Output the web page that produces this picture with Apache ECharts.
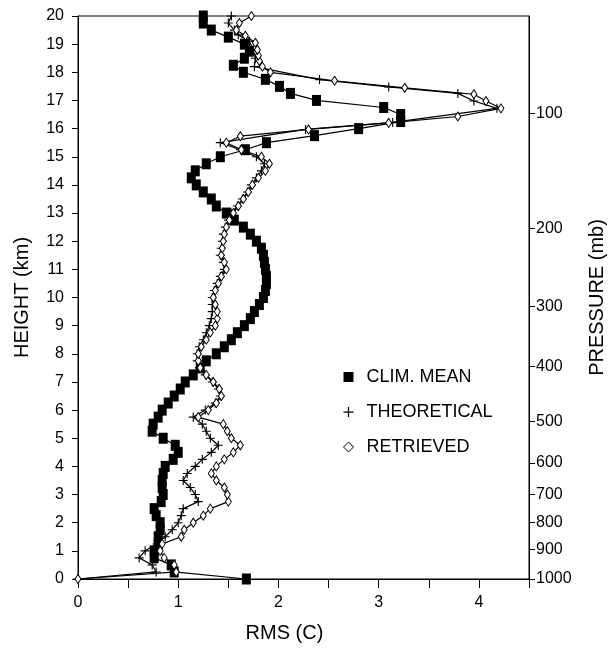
<!DOCTYPE html>
<html>
<head>
<meta charset="utf-8">
<script src="https://cdn.jsdelivr.net/npm/echarts@6/dist/echarts.min.js"></script>
<style>
html,body{margin:0;padding:0;background:#fff;}
#c{width:615px;height:648px;}
</style>
</head>
<body>
<div id="c"></div>
<script>
// ---- data ----
const climHeights = [0,0.25,0.5,0.75,1,1.25,1.5,1.75,2,2.25,2.5,2.75,3,3.25,3.5,3.75,4,4.25,4.5,4.75,5,5.25,5.5,5.75,6,6.25,6.5,6.75,7,7.25,7.5,7.75,8,8.25,8.5,8.75,9,9.25,9.5,9.75,10,10.25,10.5,10.75,11,11.25,11.5,11.75,12,12.25,12.5,12.75,13,13.25,13.5,13.75,14,14.25,14.5,14.75,15,15.25,15.5,15.75,16,16.25,16.5,16.75,17,17.25,17.5,17.75,18,18.25,18.5,18.75,19,19.25,19.5,19.75,20];
const climValues = [1.68,0.96,0.93,0.76,0.76,0.80,0.80,0.82,0.82,0.78,0.76,0.83,0.85,0.84,0.84,0.85,0.87,0.95,1.00,0.97,0.85,0.74,0.75,0.80,0.84,0.90,0.96,1.02,1.07,1.15,1.22,1.28,1.38,1.46,1.53,1.59,1.66,1.72,1.76,1.81,1.85,1.87,1.88,1.88,1.87,1.86,1.85,1.83,1.78,1.72,1.65,1.56,1.48,1.38,1.33,1.25,1.18,1.13,1.17,1.28,1.42,1.67,1.88,2.36,2.80,3.22,3.22,3.05,2.38,2.12,2.01,1.87,1.65,1.55,1.66,1.71,1.66,1.50,1.33,1.25,1.25];

const theoHeights = [0,0.25,0.5,0.75,1,1.25,1.5,1.75,2,2.25,2.5,2.75,3,3.25,3.5,3.75,4,4.25,4.5,4.75,5,5.25,5.5,5.75,6,6.25,6.5,6.75,7,7.25,7.5,7.75,8,8.25,8.5,8.75,9,9.25,9.5,9.75,10,10.25,10.5,10.75,11,11.25,11.5,11.75,12,12.25,12.5,12.75,13,13.25,13.5,13.75,14,14.25,14.5,14.75,15,15.25,15.5,15.97,16.22,16.72,16.98,17.25,17.48,17.74,18.2,18.5,18.78,19.1,19.33,19.5,19.75,20];
const theoValues = [0,0.78,0.74,0.61,0.67,0.79,0.87,0.94,1.00,1.03,1.05,1.20,1.17,1.12,1.05,1.09,1.17,1.24,1.33,1.40,1.32,1.28,1.24,1.15,1.27,1.37,1.42,1.40,1.34,1.27,1.21,1.19,1.19,1.21,1.25,1.28,1.31,1.33,1.34,1.34,1.34,1.36,1.39,1.42,1.46,1.45,1.42,1.43,1.44,1.45,1.47,1.50,1.53,1.59,1.64,1.69,1.73,1.78,1.83,1.86,1.78,1.62,1.42,2.27,3.14,4.18,3.95,3.79,3.10,2.41,1.76,1.77,1.75,1.71,1.60,1.56,1.50,1.53];

const retHeights = [0,0.25,0.5,0.75,1,1.25,1.5,1.75,2,2.25,2.5,2.75,3,3.25,3.5,3.75,4,4.25,4.5,4.75,5,5.25,5.5,5.75,6,6.25,6.5,6.75,7,7.25,7.5,7.75,8,8.25,8.5,8.75,9,9.25,9.5,9.75,10,10.25,10.5,10.75,11,11.25,11.5,11.75,12,12.25,12.5,12.75,13,13.25,13.5,13.75,14,14.25,14.5,14.75,15,15.25,15.5,15.73,15.97,16.2,16.43,16.72,16.98,17.22,17.45,17.7,18.0,18.2,18.4,18.6,18.8,19.05,19.3,19.5,19.75,20];
const retValues = [0,0.98,0.96,0.86,0.82,0.84,1.03,1.06,1.15,1.25,1.32,1.50,1.49,1.46,1.38,1.33,1.38,1.46,1.55,1.62,1.53,1.49,1.45,1.20,1.30,1.38,1.43,1.41,1.35,1.28,1.22,1.20,1.20,1.23,1.28,1.32,1.37,1.39,1.39,1.37,1.35,1.37,1.40,1.43,1.48,1.46,1.43,1.44,1.45,1.46,1.48,1.51,1.55,1.60,1.65,1.70,1.74,1.80,1.87,1.91,1.83,1.63,1.48,1.62,2.30,3.10,3.79,4.22,4.07,3.95,3.26,2.56,1.92,1.84,1.81,1.80,1.79,1.77,1.67,1.58,1.61,1.73];

const xTickLabels = [0,1,2,3,4];
const pressureLabels = ['1000','900','800','700','600','500','400','300','200','100'];
const pressureHeights = [0,1.05,2.0,3.0,4.12,5.6,7.55,9.68,12.45,16.55];

const seriesNames = ['CLIM. MEAN','THEORETICAL','RETRIEVED'];

// ---- chart ----
const FONT = "'Liberation Sans', Arial, Helvetica, sans-serif";
const PLUS = 'path://M3.5,0h1v3.5h3.5v1h-3.5v3.5h-1v-3.5h-3.5v-1h3.5z';
const pairs = (xs, hs) => xs.map((v, i) => [v, hs[i]]);

const chart = echarts.init(document.getElementById('c'), null, {renderer: 'canvas'});
chart.setOption({
  animation: false,
  backgroundColor: '#fff',
  textStyle: {fontFamily: FONT, color: '#000'},
  grid: {left: 78, right: 80, top: 16, bottom: 66, show: true, borderColor: '#000', borderWidth: 1, backgroundColor: 'transparent'},
  legend: {
    orient: 'vertical', left: 338, top: 363, itemGap: 17, itemWidth: 10, itemHeight: 10,
    textStyle: {fontFamily: FONT, fontSize: 18, color: '#000', padding: [0, 0, 0, 8]},
    data: [
      {name: seriesNames[0], icon: 'rect', itemStyle: {color: '#000', borderWidth: 0}},
      {name: seriesNames[1], icon: PLUS, itemStyle: {color: '#000', borderWidth: 0}},
      {name: seriesNames[2], icon: 'diamond', itemStyle: {color: '#fff', borderColor: '#000', borderWidth: 1}}
    ]
  },
  xAxis: {
    type: 'value', min: 0, max: 4.5, interval: 0.5,
    name: 'RMS (C)', nameLocation: 'middle', nameGap: 44,
    nameTextStyle: {fontFamily: FONT, fontSize: 20, color: '#000', padding: [0, 38, 0, 0]},
    axisLine: {show: true, lineStyle: {color: '#000', width: 1}},
    axisTick: {show: true, inside: false, length: 9, lineStyle: {color: '#000'}},
    axisLabel: {customValues: xTickLabels, margin: 16, fontSize: 16, color: '#000', fontFamily: FONT},
    splitLine: {show: false}
  },
  yAxis: [
    {
      type: 'value', min: 0, max: 20, interval: 1, position: 'left',
      name: 'HEIGHT (km)', nameLocation: 'middle', nameGap: 46, nameRotate: 90,
      nameTextStyle: {fontFamily: FONT, fontSize: 20, color: '#000'},
      axisLine: {show: true, lineStyle: {color: '#000', width: 1}},
      axisTick: {show: true, inside: false, length: 6, lineStyle: {color: '#000'}},
      axisLabel: {margin: 14, fontSize: 16, color: '#000', fontFamily: FONT},
      splitLine: {show: false}
    },
    {
      type: 'value', min: 0, max: 20, position: 'right',
      name: 'PRESSURE (mb)', nameLocation: 'middle', nameGap: 58, nameRotate: 90,
      nameTextStyle: {fontFamily: FONT, fontSize: 20, color: '#000'},
      axisLine: {show: true, lineStyle: {color: '#000', width: 1}},
      axisTick: {show: true, inside: false, length: 6, customValues: pressureHeights, lineStyle: {color: '#000'}},
      axisLabel: {
        customValues: pressureHeights, margin: 7, fontSize: 16, color: '#000', fontFamily: FONT,
        formatter: function (v) {
          let best = 0;
          for (let i = 1; i < pressureHeights.length; i++) {
            if (Math.abs(pressureHeights[i] - v) < Math.abs(pressureHeights[best] - v)) best = i;
          }
          return pressureLabels[best];
        }
      },
      splitLine: {show: false}
    }
  ],
  series: [
    {
      name: seriesNames[0], type: 'line', yAxisIndex: 0,
      data: pairs(climValues, climHeights),
      symbol: 'rect', symbolSize: [9, 11], showAllSymbol: true,
      lineStyle: {color: '#000', width: 1.2},
      itemStyle: {color: '#000', borderWidth: 0},
      z: 3
    },
    {
      name: seriesNames[1], type: 'line', yAxisIndex: 0,
      data: pairs(theoValues, theoHeights),
      symbol: PLUS, symbolSize: 9, showAllSymbol: true,
      lineStyle: {color: '#000', width: 1.2},
      itemStyle: {color: '#000', borderWidth: 0},
      z: 4
    },
    {
      name: seriesNames[2], type: 'line', yAxisIndex: 0,
      data: pairs(retValues, retHeights),
      symbol: 'diamond', symbolSize: [6, 9], showAllSymbol: true,
      lineStyle: {color: '#000', width: 1.2},
      itemStyle: {color: '#fff', borderColor: '#000', borderWidth: 1},
      z: 5
    }
  ]
});
</script>
</body>
</html>
